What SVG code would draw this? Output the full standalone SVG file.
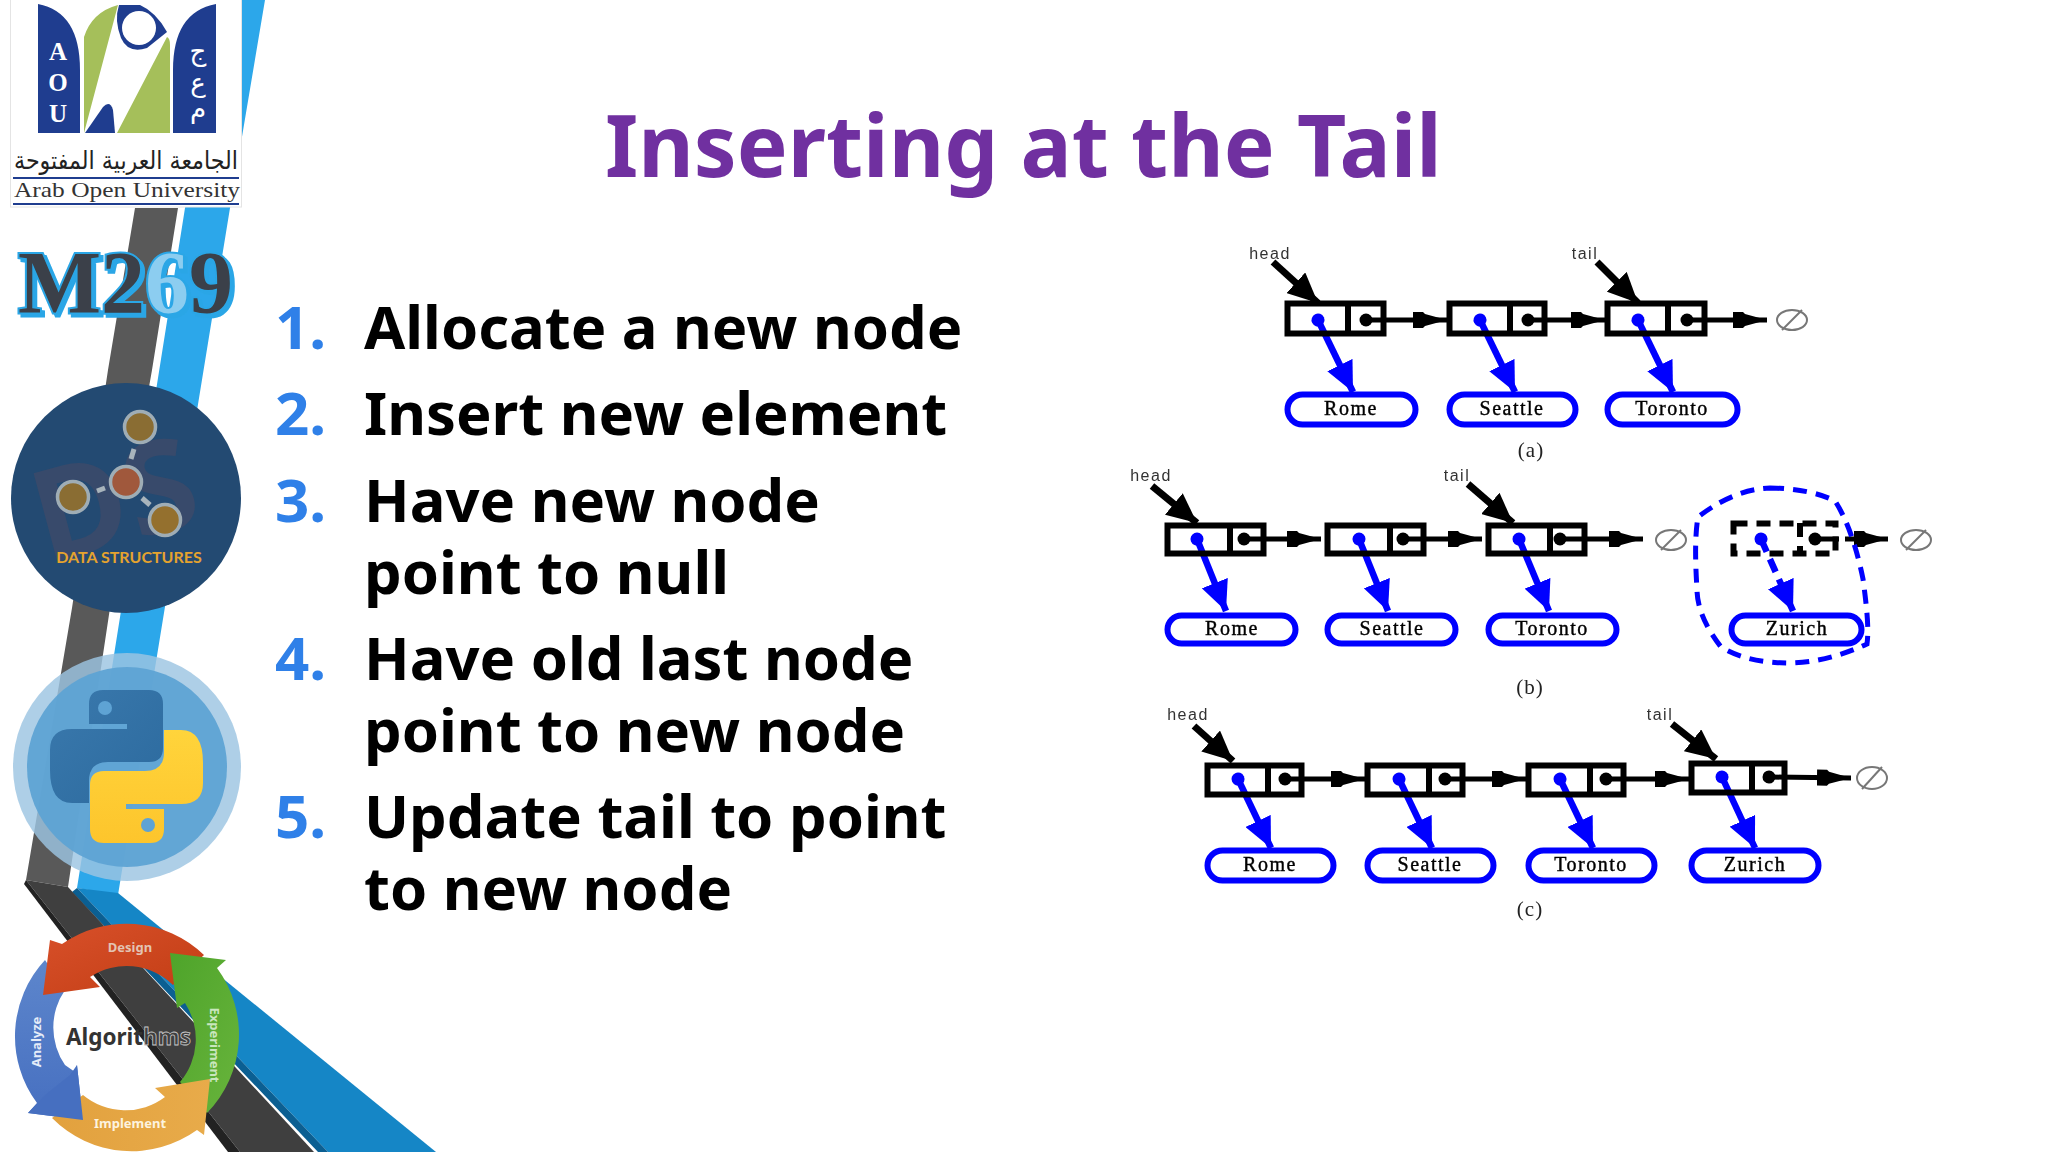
<svg xmlns="http://www.w3.org/2000/svg" width="2048" height="1152" viewBox="0 0 2048 1152">
<style>
text{font-family:"Noto Sans","Open Sans",sans-serif}
.title{font-size:85.500px;font-weight:700;fill:#7030a0}
.n{font-size:60px;font-weight:700;fill:#2f80e8}
.li{font-size:59.700px;font-weight:700;fill:#000}
.cell{fill:none;stroke:#000;stroke-width:6}
.dash{stroke-dasharray:14 9}
.pill{fill:#fff;stroke:#00f;stroke-width:6}
.lb{font-family:"Liberation Serif",serif;font-size:20px;letter-spacing:1.500px;fill:#000;stroke:#000;stroke-width:.4;text-anchor:middle}
.cap{font-family:"Liberation Serif",serif;font-size:21px;letter-spacing:1px;fill:#222;text-anchor:middle}
.ptr{font-family:"Liberation Sans",sans-serif;font-size:16px;letter-spacing:1.500px;fill:#333;text-anchor:middle}
.bk{stroke:#000;stroke-width:5;fill:none;marker-end:url(#ah);marker-start:url(#dk)}
.bl{stroke:#00f;stroke-width:6.500;fill:none;marker-end:url(#ab);marker-start:url(#db)}
.pk{stroke:#000;stroke-width:7;fill:none;marker-end:url(#ap)}
.nul{fill:none;stroke:#777;stroke-width:2}
.arw{font-weight:700;font-size:13px;text-anchor:middle}
</style>
<defs>
<marker id="ah" markerUnits="userSpaceOnUse" markerWidth="34" markerHeight="18" refX="34" refY="9" orient="auto"><path d="M0 1 L10 1 L12 3 L34 9 L12 15 L10 17 L0 17Z" fill="#000"/></marker>
<marker id="ab" markerUnits="userSpaceOnUse" markerWidth="30" markerHeight="28" refX="30" refY="14" orient="auto"><path d="M0 0 L30 14 L0 28Z" fill="#00f"/></marker>
<marker id="ap" markerUnits="userSpaceOnUse" markerWidth="30" markerHeight="28" refX="30" refY="14" orient="auto"><path d="M0 0 L30 14 L0 28Z" fill="#000"/></marker>
<marker id="dk" markerUnits="userSpaceOnUse" markerWidth="14" markerHeight="14" refX="7" refY="7" orient="auto"><circle cx="7" cy="7" r="6.500" fill="#000"/></marker>
<marker id="db" markerUnits="userSpaceOnUse" markerWidth="14" markerHeight="14" refX="7" refY="7" orient="auto"><circle cx="7" cy="7" r="6.500" fill="#00f"/></marker>
<linearGradient id="gr" x1="0" y1="0" x2="1" y2="1"><stop offset="0" stop-color="#d8502a"/><stop offset="1" stop-color="#c23d14"/></linearGradient>
<linearGradient id="gg" x1="0" y1="0" x2="1" y2="1"><stop offset="0" stop-color="#4ea42a"/><stop offset="1" stop-color="#68b43c"/></linearGradient>
<linearGradient id="go" x1="0" y1="0" x2="1" y2="0"><stop offset="0" stop-color="#e2a13e"/><stop offset="1" stop-color="#e8ab4a"/></linearGradient>
<linearGradient id="gb" x1="0" y1="0" x2="0" y2="1"><stop offset="0" stop-color="#5d86cc"/><stop offset="1" stop-color="#466fc0"/></linearGradient>
<linearGradient id="gy" x1="0" y1="0" x2="0" y2="1"><stop offset="0" stop-color="#ffd43b"/><stop offset="1" stop-color="#fdc52c"/></linearGradient>
<linearGradient id="gp" x1="0" y1="0" x2="1" y2="1"><stop offset="0" stop-color="#3a79ad"/><stop offset="1" stop-color="#2c6a9e"/></linearGradient>
<filter id="soft" x="-5%" y="-5%" width="110%" height="110%"><feGaussianBlur stdDeviation="0.7"/></filter>
<filter id="sh" x="-5%" y="-5%" width="115%" height="115%"><feDropShadow dx="3" dy="3" stdDeviation="0.5" flood-color="#2ba6e6"/></filter>
</defs>
<rect width="2048" height="1152" fill="#fff"/>
<g id="ribbon">
<polygon points="242,0 265,0 230,208 118,895 77,888 185,208" fill="#2ca7ea"/>
<polygon points="135,208 178,208 152,370 110,608 68,887 26,880 72,608 108,370" fill="#595959"/>
<polygon points="77,888 118,893 436,1152 328,1152" fill="#1586c6"/>
<polygon points="77,888 328,1152 318,1152 72,892" fill="#0b5f92"/>
<polygon points="26,880 68,887 314,1152 240,1152" fill="#3f3f3f"/>
<polygon points="26,880 240,1152 228,1152 24,884" fill="#222"/>
</g>
<g id="logo">
<rect x="10.500" y="-1" width="231" height="208" fill="#fff" stroke="#e4e4e4"/>
<path d="M38 4 Q80 12 80 70 V133 H38Z M216 4 Q173 12 173 70 V133 H216Z" fill="#1f3d8f"/>
<path d="M84 133 V37 Q92 12 118 5Z M117 133 L167 37 Q170 38 170 45 V133Z" fill="#a5bf5a"/>
<path d="M85 133 L103 107 Q110 100 113 110 L115 133Z" fill="#1f3d8f"/>
<path d="M119 5 H140 Q156 12 167 32 L147 48 Q128 54 121 38 Q114 20 119 5Z" fill="#1f3d8f"/>
<circle cx="139" cy="28" r="17" fill="#fff"/>
<text x="58" y="60" font-size="25" font-weight="700" fill="#fff" text-anchor="middle" style="font-family:'Liberation Serif',serif">A</text>
<text x="58" y="91" font-size="25" font-weight="700" fill="#fff" text-anchor="middle" style="font-family:'Liberation Serif',serif">O</text>
<text x="58" y="122" font-size="25" font-weight="700" fill="#fff" text-anchor="middle" style="font-family:'Liberation Serif',serif">U</text>
<text x="198" y="60" font-size="26" fill="#fff" text-anchor="middle" style="font-family:'DejaVu Sans',sans-serif">ج</text>
<text x="198" y="92" font-size="26" fill="#fff" text-anchor="middle" style="font-family:'DejaVu Sans',sans-serif">ع</text>
<text x="198" y="118" font-size="26" fill="#fff" text-anchor="middle" style="font-family:'DejaVu Sans',sans-serif">م</text>
<text x="126" y="169" font-size="25" fill="#222" text-anchor="middle" textLength="224" lengthAdjust="spacingAndGlyphs" style="font-family:'DejaVu Sans',sans-serif">الجامعة العربية المفتوحة</text>
<line x1="13" y1="178" x2="239" y2="178" stroke="#1f3d8f" stroke-width="2"/>
<text x="14" y="197" font-size="22" fill="#333" textLength="226" lengthAdjust="spacingAndGlyphs" style="font-family:'Liberation Serif',serif">Arab Open University</text>
<line x1="13" y1="204" x2="239" y2="204" stroke="#1f3d8f" stroke-width="2"/>
</g>
<g id="m269">
<text x="18" y="312" font-size="88" font-weight="700" fill="#3a4048" stroke="#2ba6e6" stroke-width="4" paint-order="stroke" filter="url(#sh)" style="font-family:'Liberation Serif',serif">M2<tspan fill="#8ccdf0">6</tspan>9</text>
</g>
<g id="ds-badge">
<circle cx="126" cy="498" r="115" fill="#234a72"/>
<text transform="translate(126 543) rotate(-15)" font-size="128" font-weight="700" fill="#384a6b" text-anchor="middle">DS</text>
<g stroke="#a8b4bc" stroke-width="5"><line x1="134" y1="449" x2="131" y2="459"/><line x1="97" y1="491" x2="105" y2="488"/><line x1="142" y1="498" x2="150" y2="505"/></g>
<circle cx="140" cy="427" r="15.500" fill="#8a6d33" stroke="#9fadb5" stroke-width="3.500"/>
<circle cx="126" cy="482" r="15.500" fill="#a0583c" stroke="#9fadb5" stroke-width="3.500"/>
<circle cx="73" cy="497" r="15.500" fill="#8a6d33" stroke="#9fadb5" stroke-width="3.500"/>
<circle cx="165" cy="520" r="15.500" fill="#94702e" stroke="#9fadb5" stroke-width="3.500"/>
<text x="129" y="563" font-size="16" font-weight="700" fill="#e5a32e" text-anchor="middle" style="font-family:Lato,sans-serif">DATA STRUCTURES</text>
</g>
<g id="python-badge">
<circle cx="127" cy="767" r="114" fill="#9cc5e2" opacity=".82"/>
<circle cx="127" cy="767" r="100" fill="#5ea3d4" opacity=".95"/>
<path d="M103 690 H149 Q163 690 163 704 V748 Q163 762 149 762 H108 Q89 762 89 781 V803 H72 Q50 803 50 770 V750 Q50 729 72 729 H127 V724 H89 V704 Q89 690 103 690Z" fill="url(#gp)"/>
<circle cx="105" cy="708" r="7" fill="#5ea3d4"/>
<path d="M150 843 H104 Q90 843 90 829 V785 Q90 771 104 771 H145 Q164 771 164 752 V730 H181 Q203 730 203 763 V783 Q203 804 181 804 H126 V809 H164 V829 Q164 843 150 843Z" fill="url(#gy)"/>
<circle cx="148" cy="825" r="7" fill="#5ea3d4"/>
</g>
<g id="algorithms-cycle">
<path d="M83 1120 L28 1113 L37 1103 A112 112 0 0 1 45 960 L65 990 A66 66 0 0 0 65 1065 L75 1072 L77 1065Z" fill="url(#gb)"/>
<path d="M62 944 A112 112 0 0 1 204 955 L173 985 A66 66 0 0 0 90 977 L100 987 L43 995 L50 940Z" fill="url(#gr)"/>
<path d="M170 953 L226 960 L217 968 A112 112 0 0 1 207 1113 L180 1082 A66 66 0 0 0 185 1003 L177 1008Z" fill="url(#gg)"/>
<path d="M204 1135 L210 1079 L155 1088 L165 1097 A66 66 0 0 1 83 1095 L52 1118 A112 112 0 0 0 197 1130Z" fill="url(#go)"/>
<path d="M83 1120 L28 1113 L45 1095 L70 1075 L77 1065Z" fill="#466fc0"/>
<text class="arw" x="130" y="952" fill="#e3c3b3">Design</text>
<text class="arw" x="130" y="1128" fill="#fdf3df">Implement</text>
<text class="arw" transform="translate(41 1042) rotate(-90)" fill="#e4ecf8">Analyze</text>
<text class="arw" transform="translate(210 1045) rotate(90)" fill="#c9e6bd">Experiment</text>
<text x="66" y="1045" font-size="22.500" font-weight="700" fill="#333">Algorit<tspan fill="#3f3f3f" stroke="#c8c8c8" stroke-width=".8">hms</tspan></text>
</g>
<text class="title" x="605" y="177">Inserting at the Tail</text>
<g id="steps">
<text class="n" x="275" y="349">1.</text><text class="li" x="364" y="349">Allocate a new node</text>
<text class="n" x="275" y="435">2.</text><text class="li" x="364" y="435">Insert new element</text>
<text class="n" x="275" y="522">3.</text><text class="li" x="364" y="522">Have new node</text>
<text class="li" x="364" y="594">point to null</text>
<text class="n" x="275" y="680">4.</text><text class="li" x="364" y="680">Have old last node</text>
<text class="li" x="364" y="752">point to new node</text>
<text class="n" x="275" y="838">5.</text><text class="li" x="364" y="838">Update tail to point</text>
<text class="li" x="364" y="910">to new node</text>
</g>
<g id="figure" filter="url(#soft)" transform="translate(-5 -1)">
<g id="connectors">
<path class="pk" d="M1278 263 L1323 304"/><path class="pk" d="M1602 263 L1643 304"/>
<path class="bl" d="M1323 321 L1358 393"/><path class="bl" d="M1485 321 L1520 393"/><path class="bl" d="M1643 321 L1678 393"/>
<path class="bk" d="M1371 321 L1452 321"/><path class="bk" d="M1533 321 L1610 321"/><path class="bk" d="M1692 321 L1772 321"/>
<path class="pk" d="M1157 487 L1202 524"/><path class="pk" d="M1473 485 L1518 524"/>
<path class="bl" d="M1202 540 L1231 612"/><path class="bl" d="M1364 540 L1393 612"/><path class="bl" d="M1524 540 L1554 612"/>
<path class="bk" d="M1249 540 L1326 540"/><path class="bk" d="M1408 540 L1487 540"/><path class="bk" d="M1565 540 L1648 540"/>
<path class="bl" stroke-dasharray="14 8" d="M1766 540 L1798 612"/>
<path class="bk" stroke-dasharray="24 6" d="M1820 540 L1893 540"/>
<path class="pk" d="M1199 727 L1238 762"/><path class="pk" d="M1677 725 L1721 760"/>
<path class="bl" d="M1243 780 L1276 849"/><path class="bl" d="M1404 780 L1437 849"/><path class="bl" d="M1565 780 L1598 849"/><path class="bl" d="M1727 778 L1760 849"/>
<path class="bk" d="M1290 780 L1370 780"/><path class="bk" d="M1450 780 L1531 780"/><path class="bk" d="M1611 780 L1694 780"/><path class="bk" d="M1774 778 L1856 779"/>
</g>
<g id="a-head"><text class="ptr" x="1275" y="260">head</text></g>
<g id="a-tail"><text class="ptr" x="1590" y="260">tail</text></g>
<g id="a-n1"><rect class="cell" x="1292.500" y="304.500" width="96" height="30"/><path class="cell" d="M1353 304 V335"/></g>
<g id="a-n2"><rect class="cell" x="1454.500" y="304.500" width="95" height="30"/><path class="cell" d="M1515 304 V335"/></g>
<g id="a-n3"><rect class="cell" x="1612.500" y="304.500" width="97" height="30"/><path class="cell" d="M1673 304 V335"/></g>
<g id="a-e1"><rect class="pill" x="1292.500" y="395.500" width="128" height="30" rx="15"/><text class="lb" x="1356" y="416">Rome</text></g>
<g id="a-e2"><rect class="pill" x="1454.500" y="395.500" width="126" height="30" rx="15"/><text class="lb" x="1517" y="416">Seattle</text></g>
<g id="a-e3"><rect class="pill" x="1612.500" y="395.500" width="130" height="30" rx="15"/><text class="lb" x="1677" y="416">Toronto</text></g>
<g id="a-null"><ellipse class="nul" cx="1797" cy="321" rx="15" ry="10"/><path class="nul" d="M1787 331 L1807 311"/></g>
<text class="cap" x="1536" y="458">(a)</text>
<g id="b-head"><text class="ptr" x="1156" y="482">head</text></g>
<g id="b-tail"><text class="ptr" x="1462" y="482">tail</text></g>
<g id="b-n1"><rect class="cell" x="1172.500" y="526.500" width="96" height="28"/><path class="cell" d="M1235 526 V555"/></g>
<g id="b-n2"><rect class="cell" x="1332.500" y="526.500" width="96" height="28"/><path class="cell" d="M1395 526 V555"/></g>
<g id="b-n3"><rect class="cell" x="1493.500" y="526.500" width="96" height="28"/><path class="cell" d="M1555 526 V555"/></g>
<g id="b-e1"><rect class="pill" x="1172.500" y="616.500" width="128" height="28" rx="14"/><text class="lb" x="1237" y="636">Rome</text></g>
<g id="b-e2"><rect class="pill" x="1332.500" y="616.500" width="128" height="28" rx="14"/><text class="lb" x="1397" y="636">Seattle</text></g>
<g id="b-e3"><rect class="pill" x="1493.500" y="616.500" width="128" height="28" rx="14"/><text class="lb" x="1557" y="636">Toronto</text></g>
<g id="b-null1"><ellipse class="nul" cx="1676" cy="541" rx="15" ry="10"/><path class="nul" d="M1666 551 L1686 531"/></g>
<g id="b-new"><rect class="cell dash" x="1738.500" y="524.500" width="102" height="30"/><path class="cell dash" d="M1805 524 V556"/></g>
<g id="b-e4"><rect class="pill" x="1736.500" y="616.500" width="130" height="28" rx="14"/><text class="lb" x="1802" y="636">Zurich</text></g>
<g id="b-null2"><ellipse class="nul" cx="1921" cy="541" rx="15" ry="10"/><path class="nul" d="M1911 551 L1931 531"/></g>
<path id="b-blob" d="M1775 489 C1800 489 1825 494 1840 502 C1852 520 1862 550 1868 580 C1872 610 1874 630 1872 645 C1850 655 1825 663 1797 664 C1770 664 1745 660 1726 648 C1712 630 1702 610 1702 590 C1700 560 1700 535 1703 518 C1720 505 1745 490 1775 489Z" fill="none" stroke="#00f" stroke-width="5" stroke-dasharray="14 9"/>
<text class="cap" x="1535" y="695">(b)</text>
<g id="c-head"><text class="ptr" x="1193" y="721">head</text></g>
<g id="c-tail"><text class="ptr" x="1665" y="721">tail</text></g>
<g id="c-n1"><rect class="cell" x="1212.500" y="766.500" width="94" height="29"/><path class="cell" d="M1273 766 V796"/></g>
<g id="c-n2"><rect class="cell" x="1372.500" y="766.500" width="95" height="29"/><path class="cell" d="M1434 766 V796"/></g>
<g id="c-n3"><rect class="cell" x="1533.500" y="766.500" width="95" height="29"/><path class="cell" d="M1595 766 V796"/></g>
<g id="c-n4"><rect class="cell" x="1696.500" y="764.500" width="93" height="29"/><path class="cell" d="M1757 764 V794"/></g>
<g id="c-e1"><rect class="pill" x="1212.500" y="851.500" width="126" height="30" rx="15"/><text class="lb" x="1275" y="872">Rome</text></g>
<g id="c-e2"><rect class="pill" x="1372.500" y="851.500" width="126" height="30" rx="15"/><text class="lb" x="1435" y="872">Seattle</text></g>
<g id="c-e3"><rect class="pill" x="1533.500" y="851.500" width="126" height="30" rx="15"/><text class="lb" x="1596" y="872">Toronto</text></g>
<g id="c-e4"><rect class="pill" x="1696.500" y="851.500" width="127" height="30" rx="15"/><text class="lb" x="1760" y="872">Zurich</text></g>
<g id="c-null"><ellipse class="nul" cx="1877" cy="779" rx="15" ry="11"/><path class="nul" d="M1867 790 L1887 768"/></g>
<text class="cap" x="1535" y="917">(c)</text>
</g>
</svg>
